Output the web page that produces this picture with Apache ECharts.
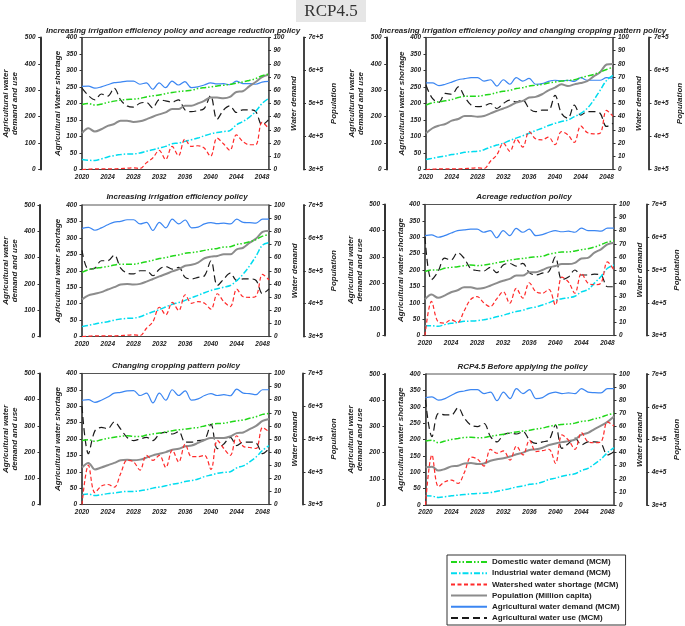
<!DOCTYPE html>
<html>
<head>
<meta charset="utf-8">
<script src="https://cdn.jsdelivr.net/npm/echarts@6/dist/echarts.min.js"></script>
<style>
html,body{margin:0;padding:0;background:#fff;}
#chart{width:685px;height:626px;}
</style>
</head>
<body>
<div id="chart"></div>
<script>
// ---------------- DATA ----------------
const years = [2020,2021,2022,2023,2024,2025,2026,2027,2028,2029,2030,2031,2032,2033,2034,2035,2036,2037,2038,2039,2040,2041,2042,2043,2044,2045,2046,2047,2048,2049];

const seriesNames = ['Domestic water demand (MCM)','Industrial water demand (MCM)','Watershed water shortage (MCM)','Population (Million capita)','Agricultural water demand (MCM)','Agricultural water use (MCM)'];

const panelTitles = [
  'Increasing irrigation efficiency policy and acreage reduction policy',
  'Increasing irrigation efficiency policy and changing cropping pattern policy',
  'Increasing irrigation efficiency policy',
  'Acreage reduction policy',
  'Changing cropping pattern policy',
  'RCP4.5 Before applying the policy'
];
const shortageAxisNames = ['Agricultural Water shortage','Agricultural water shortage','Agricultural water shortage','Agricultural water shortage','Agricultural water shortage','Agricultural water shortage'];

// Domestic water demand (MCM) - axis "Water demand" 0-100
const dom1 = [49.3,50,48.8,49.5,50.8,51.8,52.5,53,53.3,53.8,55,55.8,56.5,57.5,58.3,59,59.5,60,61.3,62,62.5,63.3,63.8,64.5,65.5,66.3,67.5,68.8,71,72.3];
const dom2 = [48.8,50.5,51.3,52,53,54.5,55.5,55.5,55.5,56.3,57,58.3,59.3,60,61.3,62,63.3,63.8,64.5,65.5,66.3,67,67.5,68,69.5,70.8,72,73.8,75.8,77.5];
const dom3 = [48.8,50.8,51.8,52.5,53.3,54.3,55,55,55,55.8,56.8,58,59.3,60,61.3,62,63.3,63.8,64.5,65.5,66.3,67,68,68.3,70,70.8,72,73.8,76.3,77.5];
const dom4 = [48.8,50,50,51.3,52,52.5,53.3,53.8,53.3,53.8,54.5,55.5,56.5,57.5,58.3,58.8,59.5,60,60.5,62,63,63.8,63.8,64.5,65.5,66.3,67.5,69.3,71.3,72.5];
const dom5 = [48.8,49.5,48.3,49.5,50.5,51.3,52,52.5,52,52,53,53.8,54.5,55.5,56.3,57,57.5,58.3,58.8,60,61.3,61.8,62,63,63.8,64.5,65.8,67,68.8,69.5];
const dom6 = [48.8,49.5,47.5,48.8,50,50.8,51.5,51.8,51.3,51.5,52.5,53.3,54,55,55.8,56.5,57,58,58.8,60,61,61.5,61.8,62.5,63.8,64.3,65.8,67,68.8,70];

// Industrial water demand (MCM) - axis "Water demand" 0-100
const ind1 = [7.5,7,6.8,8,9.5,10.5,11.3,11.8,11.8,12.5,13.8,15,16.3,17.5,19.5,20,21.3,22.5,23.8,25.5,27,28,28.8,29.5,33.8,36.3,39.5,44,50,53.8];
const ind2 = [7.5,8.5,9.5,10.3,11.3,12,13,13.5,13.8,15,17,18.5,20,22,23.8,25.5,27.5,29.5,31.3,33.3,35,36.3,37.5,40,42.5,46.3,52.5,60,67.5,71.3];
const ind3 = [7.5,8.5,9.5,10.5,11.3,12.5,13.3,13.8,14,15,17,18.8,20.5,22.5,24.5,25.8,27.5,29.5,31.3,33.3,35,36.3,37.5,38.8,42.5,47.5,53.8,61.3,69.5,71.3];
const ind4 = [7.5,7.5,7,8.3,9.3,10,10.8,11,11.3,12,13,14.3,15.5,17,18.3,19.3,20.8,21.8,23.3,25,27,28,28.8,30,33.3,35,40,45,51.3,53.8];
const ind5 = [7.5,8,6.8,7.5,8.3,8.8,9.5,10,10,10.5,11.3,12.5,13.3,14.3,15.5,16.3,17.5,18.3,19.5,21.3,22.5,23.8,24.5,25,28,29.5,32.5,36.3,41.3,45];
const ind6 = [7,6.8,5.8,6.3,7,7.5,8,8.5,8.8,9,9.5,10.5,11.5,12.5,13.8,14.5,15.8,16.3,17.5,19.5,20.5,22,23,23.8,26.3,28,31.3,35,40,43.8];

// Watershed water shortage (MCM) - axis "Agricultural water shortage" 0-400
const short1 = [0,1,2,2,2,2,3,4,5,3,20,35,58,30,70,42,92,70,72,65,40,95,78,58,105,85,75,75,143,125];
const short2 = [0,1,2,2,2,2,3,4,5,3,25,45,80,55,92,68,115,93,90,98,75,115,105,82,132,112,108,110,179,161];
const short3 = [0,1,2,2,2,2,3,4,5,3,25,45,89,66,104,79,127,101,106,101,83,130,106,91,144,121,119,123,189,172];
const short4 = [0,104,42,38,48,40,75,110,119,100,88,112,134,98,144,114,161,134,129,141,93,178,164,129,190,160,155,160,225,200];
const short5 = [0,120,36,56,61,53,95,135,130,105,150,135,150,113,166,130,184,146,146,150,107,196,171,150,210,178,174,171,235,222];
const short6 = [0,153,56,71,76,66,100,146,140,119,170,158,165,137,180,153,198,163,166,170,127,214,198,170,221,193,190,193,254,241];

// Population - axis "Population" 3e+5 - 7e+5
const pop1 = [410000,425000,415000,422000,432000,438000,448000,448000,444000,446000,452000,460000,467000,473000,483000,483000,493000,493000,500000,508000,518000,518000,516000,520000,535000,537000,552000,565000,580000,587000];
const pop2 = [410000,425000,433000,438000,448000,453000,462000,462000,460000,462000,470000,478000,485000,493000,503000,508000,518000,520000,528000,540000,548000,558000,553000,558000,562000,568000,582000,595000,618000,620000];
const pop3 = [413000,425000,430000,435000,443000,450000,458000,460000,458000,460000,467000,475000,483000,490000,498000,505000,515000,518000,525000,538000,543000,545000,550000,550000,565000,570000,585000,598000,618000,622000];
const pop4 = [410000,425000,415000,422000,432000,438000,447000,447000,443000,445000,452000,460000,467000,473000,483000,483000,493000,493000,500000,508000,512000,518000,518000,522000,535000,537000,553000,563000,578000,583000];
const pop5 = [413000,427000,407000,413000,420000,427000,435000,437000,435000,437000,443000,450000,455000,460000,467000,470000,478000,480000,488000,497000,503000,503000,503000,508000,518000,520000,530000,540000,555000,561000];
const pop6 = [415000,417000,405000,410000,418000,420000,427000,428000,425000,427000,435000,440000,443000,448000,455000,460000,468000,470000,475000,483000,488000,492000,495000,500000,515000,520000,532000,542000,554000,570000];

// Agricultural water demand (MCM) - axis "Agricultural water demand and use" 0-500
const agDem1 = [315,316,308,313,321,329,331,335,335,323,328,304,328,310,335,320,333,310,313,320,328,324,325,321,335,325,325,323,331,334];
const agDem2 = [328,328,318,323,331,340,344,348,348,335,340,316,340,323,348,335,345,323,325,334,338,336,338,334,348,338,338,338,348,345];
const agDem3 = [411,415,404,413,425,435,438,444,444,428,434,403,434,413,446,428,443,413,416,428,433,429,431,428,446,434,433,431,446,446];
const agDem4 = [381,384,375,381,391,400,403,406,406,394,400,373,400,381,409,394,406,381,385,394,400,396,398,394,410,400,400,398,410,410];
const agDem5 = [398,400,390,398,410,425,428,434,435,416,425,388,425,398,438,416,434,398,403,416,423,416,419,415,440,425,423,419,438,438];
const agDem6 = [410,413,400,406,419,431,435,440,440,425,431,398,431,406,444,425,440,406,410,425,431,425,428,425,444,431,429,428,444,444];

// Agricultural water use (MCM) - axis "Agricultural water demand and use" 0-500
const agUse1 = [308,280,264,286,278,308,264,241,236,251,254,233,264,260,255,264,226,219,223,231,279,190,225,241,216,226,226,220,169,188];
const agUse2 = [319,269,254,288,285,313,275,244,238,241,250,231,250,263,256,263,231,219,225,225,281,213,194,244,206,219,219,213,163,175];
const agUse3 = [328,256,260,288,288,310,260,241,238,250,250,231,256,266,256,263,225,219,225,231,288,194,219,241,213,219,219,213,163,181];
const agUse4 = [376,213,244,295,288,316,295,256,248,246,260,240,269,275,265,275,240,231,238,244,300,213,223,250,231,231,234,231,186,186];
const agUse5 = [375,194,281,294,290,315,288,256,244,250,256,244,269,275,269,278,238,238,244,248,306,213,231,256,225,238,238,235,194,213];
const agUse6 = [401,261,350,344,344,371,331,305,299,311,261,241,268,274,271,280,248,235,241,248,305,216,235,255,229,241,241,235,191,204];

const panelData = [
  {dom:dom1, ind:ind1, sh:short1, pop:pop1, dem:agDem1, use:agUse1},
  {dom:dom2, ind:ind2, sh:short2, pop:pop2, dem:agDem2, use:agUse2},
  {dom:dom3, ind:ind3, sh:short3, pop:pop3, dem:agDem3, use:agUse3},
  {dom:dom4, ind:ind4, sh:short4, pop:pop4, dem:agDem4, use:agUse4},
  {dom:dom5, ind:ind5, sh:short5, pop:pop5, dem:agDem5, use:agUse5},
  {dom:dom6, ind:ind6, sh:short6, pop:pop6, dem:agDem6, use:agUse6}
];

// ---------------- LAYOUT ----------------
const layout = [
  {left:82,   top:37.5, w:186.5, h:132,   oL:41.3, oR:35,   tx:173,   ty:31},
  {left:426,  top:37.5, w:187,   h:132,   oL:39.3, oR:36,   tx:523,   ty:31},
  {left:82,   top:205,  w:187,   h:131.5, oL:42,   oR:34.3, tx:177,   ty:197},
  {left:425,  top:204.5,w:189,   h:131,   oL:40,   oR:32.7, tx:524,   ty:197},
  {left:82,   top:373.5,w:187,   h:131,   oL:42,   oR:34,   tx:176,   ty:366},
  {left:425.5,top:374,  w:188.5, h:131,   oL:40.5, oR:32.7, tx:522.5, ty:367}
];

const FONT = '"Liberation Sans", Arial, sans-serif';
const lblStyle = {fontSize:6.5, fontWeight:'bold', fontStyle:'italic', color:'#222', fontFamily:FONT};
const nameStyle = {fontSize:8, fontWeight:'bold', fontStyle:'italic', color:'#222', fontFamily:FONT, lineHeight:9};

const styles = [
  {color:'#22d81a', type:[6,2,1.5,2,1.5,2], width:1.5},
  {color:'#00dcef', type:[6,2,1.5,2], width:1.5},
  {color:'#ff2a2a', type:[4,2.5], width:1.2},
  {color:'#8c8c8c', type:'solid', width:2},
  {color:'#3b86f2', type:'solid', width:1.2},
  {color:'#1a1a1a', type:[7,4], width:1.2}
];

const grids = [], xAxes = [], yAxes = [], series = [], graphics = [];

layout.forEach((L, i) => {
  grids.push({left:L.left, top:L.top, width:L.w, height:L.h, show:true, borderColor:'#555', borderWidth:1, containLabel:false});
  xAxes.push({
    type:'value', gridIndex:i, min:2020, max:2049, interval:4,
    axisLine:{show:true, lineStyle:{color:'#444', width:1}},
    axisTick:{show:false}, splitLine:{show:false},
    axisLabel:Object.assign({margin:4, showMaxLabel:false, formatter:v => (v % 4 === 0 ? String(v) : '')}, lblStyle)
  });
  const yBase = {gridIndex:i, splitLine:{show:false}, axisTick:{show:true, length:2.5, lineStyle:{color:'#333'}}, nameLocation:'middle', nameTextStyle:nameStyle};
  yAxes.push(Object.assign({}, yBase, {
    type:'value', position:'left', offset:L.oL, min:0, max:500, interval:100,
    name:'Agricultural water\ndemand and use', nameGap:21,
    axisLine:{show:true, lineStyle:{color:'#333', width:2}},
    axisLabel:Object.assign({margin:5}, lblStyle)
  }));
  yAxes.push(Object.assign({}, yBase, {
    type:'value', position:'left', offset:0, min:0, max:400, interval:50,
    name:shortageAxisNames[i], nameGap:20,
    axisLine:{show:true, lineStyle:{color:'#444', width:1.6}},
    axisLabel:Object.assign({margin:5}, lblStyle)
  }));
  yAxes.push(Object.assign({}, yBase, {
    type:'value', position:'right', offset:0, min:0, max:100, interval:10,
    name:'Water demand', nameGap:21,
    axisLine:{show:true, lineStyle:{color:'#555', width:1.6}},
    axisLabel:Object.assign({margin:5}, lblStyle)
  }));
  yAxes.push(Object.assign({}, yBase, {
    type:'value', position:'right', offset:L.oR, min:300000, max:700000, interval:100000,
    name:'Population', nameGap:26,
    axisLine:{show:true, lineStyle:{color:'#444', width:2}},
    axisLabel:Object.assign({margin:5, formatter:v => (v/100000) + 'e+5'}, lblStyle)
  }));

  const d = panelData[i];
  const arrs = [d.dom, d.ind, d.sh, d.pop, d.dem, d.use];
  const axisIdx = [4*i+2, 4*i+2, 4*i+1, 4*i+3, 4*i, 4*i];
  const order = [5,4,3,1,0,2];
  order.forEach(k => {
    series.push({
      name:seriesNames[k], type:'line', xAxisIndex:i, yAxisIndex:axisIdx[k],
      data:years.map((y, j) => [y, arrs[k][j]]),
      smooth:0.35, symbol:'none', showSymbol:false,
      lineStyle:{color:styles[k].color, type:styles[k].type, width:styles[k].width},
      itemStyle:{color:styles[k].color},
      animation:false, silent:true
    });
  });

  graphics.push({
    type:'text', x:L.tx, y:L.ty,
    style:{text:panelTitles[i], textAlign:'center', textVerticalAlign:'middle',
      font:'italic bold 8px ' + FONT, fill:'#222'}
  });
});

graphics.push({type:'rect', shape:{x:296, y:0, width:70, height:22}, style:{fill:'#e6e6e6'}});
graphics.push({type:'text', x:331, y:12, style:{text:'RCP4.5', textAlign:'center', textVerticalAlign:'middle', font:'17px "Liberation Serif", "Times New Roman", serif', fill:'#333'}});

const chart = echarts.init(document.getElementById('chart'), null, {renderer:'canvas'});
chart.setOption({
  animation:false,
  backgroundColor:'#fff',
  grid:grids, xAxis:xAxes, yAxis:yAxes, series:series,
  graphic:graphics,
  legend:{
    data:seriesNames, orient:'vertical', left:447, top:555,
    itemWidth:36, itemHeight:7, itemGap:3.2,
    padding:[3,6,3,3],
    borderColor:'#333', borderWidth:1, backgroundColor:'#fff',
    selectedMode:false,
    itemStyle:{opacity:0},
    textStyle:{fontSize:8, lineHeight:8, fontWeight:'bold', color:'#222', fontFamily:FONT}
  }
});
</script>
</body>
</html>
